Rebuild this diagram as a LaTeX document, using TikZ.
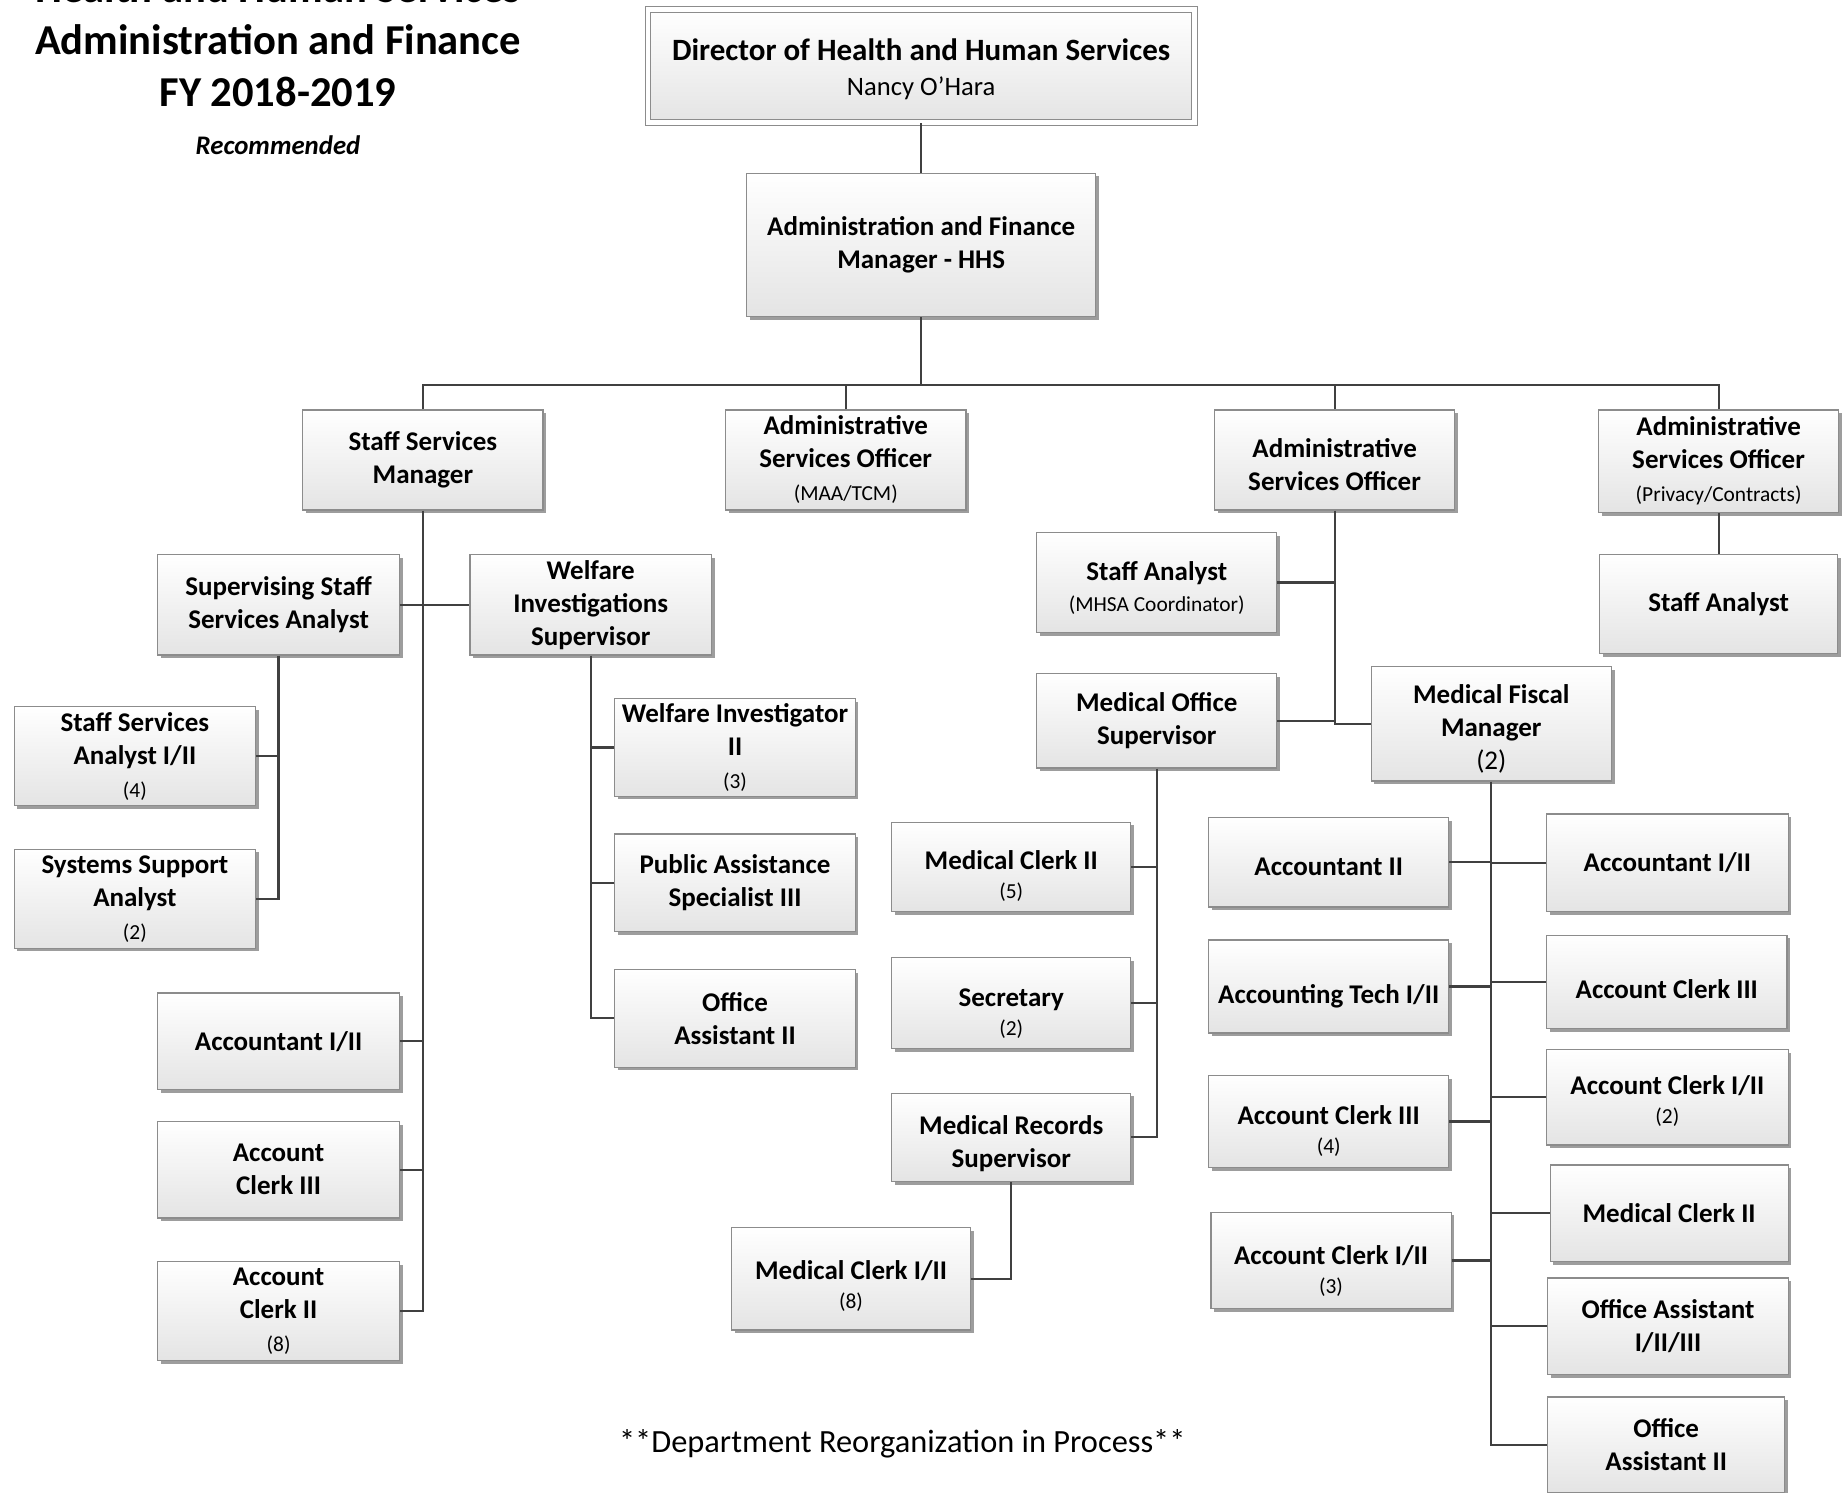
\documentclass[tikz,border=0pt]{standalone}
\usepackage{fontspec}
\setmainfont{Carlito}
\usetikzlibrary{shadows}
\definecolor{boxline}{HTML}{8C8C8C}
\definecolor{boxbot}{HTML}{E4E4E4}
\definecolor{linecol}{HTML}{404040}
\tikzset{
  lift/.store in=\liftht, lift=0,
  post/.style={draw=boxline, line width=0.6pt, top color=white, bottom color=boxbot,
    inner sep=0pt, align=center, font=\bfseries\fontsize{13.5}{16.5}\selectfont,
    drop shadow={shadow xshift=1.6pt, shadow yshift=-1.6pt, opacity=0.55, fill=black!70}},
  wire/.style={draw=linecol, line width=1.1pt},
  headline/.style={anchor=base, font=\bfseries\fontsize{21.3}{26}\selectfont}
}
\newcommand{\cnt}[1]{{\normalfont\fontsize{10.7}{16.5}\selectfont #1}}
\newcommand{\post}[7][]{\node[post, minimum width={(#5-#3)*0.589pt},
  minimum height={(#6-#4)*0.589pt}, #1] (#2) at ({(#3+#5)/2},{(#4+#6)/2})
  {\rule{0pt}{\liftht pt}#7}}
\newcommand{\tie}[2]{\draw[wire] (#1) -- (#1 -| #2.south)}

\begin{document}
\begin{tikzpicture}[x=0.589pt, y=-0.589pt]
\useasboundingbox (0,0) rectangle (1568,1267);
%Title
	\node[headline] (t1) at (236,2.5) {Health and Human Services};
	\node[headline] (t2) at (236,46) {Administration and Finance};
	\node[headline] (t3) at (236,90) {FY 2018-2019};
	\node[anchor=base, font=\bfseries\itshape\fontsize{13.4}{16}\selectfont] (rec) at (236,131) {Recommended};
%Top of the chart
	\post[double=white, double distance=2.2pt, line width=0.5pt, lift=14]{dir}{550}{8}{1014}{104}{{\fontsize{15.5}{18}\selectfont Director of Health and Human Services}\\[1pt]{\normalfont\fontsize{13.3}{16}\selectfont Nancy O’Hara}};
	\post{afm}{634}{147}{930}{269}{Administration and Finance\\Manager - HHS};
	\draw[wire] (dir.south) -- (afm.north);
	\coordinate (bus) at (782,327);
	\draw[wire] (afm.south) -- (bus);
%Second level
	\post{ssm}{257}{348}{461}{433}{Staff Services\\Manager};
	\post{asoA}{616}{348}{820}{433}{Administrative\\Services Officer\\\cnt{(MAA/TCM)}};
	\post[lift=14]{asoB}{1031}{348}{1235}{433}{Administrative\\Services Officer};
	\post{asoC}{1357}{348}{1561}{435}{Administrative\\Services Officer\\\cnt{(Privacy/Contracts)}};
	\foreach \n in {ssm,asoA,asoB,asoC} \draw[wire] (\n.north) |- (bus);
%Staff Services Manager
	\post{sssa}{134}{471}{339}{556}{Supervising Staff\\Services Analyst};
	\post{wis}{399}{471}{604}{556}{Welfare\\Investigations\\Supervisor};
	\post{ssa12}{12}{600}{217}{684}{Staff Services\\Analyst I/II\\\cnt{(4)}};
	\post{sysa}{12}{721}{217}{805}{Systems Support\\Analyst\\\cnt{(2)}};
	\post{wi2}{522}{593}{726}{676}{Welfare Investigator\\II\\\cnt{(3)}};
	\post{pas3}{522}{708}{726}{791}{Public Assistance\\Specialist III};
	\post{oa2L}{522}{823}{726}{906}{Office\\Assistant II};
	\post{accL}{134}{843}{339}{925}{Accountant I/II};
	\post{ac3L}{134}{952}{339}{1034}{Account\\Clerk III};
	\post{ac2L}{134}{1071}{339}{1155}{Account\\Clerk II\\\cnt{(8)}};
	\draw[wire] (ssm.south) |- (ac2L.east);
	\tie{accL.east}{ssm};
	\tie{ac3L.east}{ssm};
	\draw[wire] (sssa.east) -- (wis.west);
	\draw[wire] (sssa.south) |- (sysa.east);
	\tie{ssa12.east}{sssa};
	\draw[wire] (wis.south) |- (oa2L.west);
	\tie{wi2.west}{wis};
	\tie{pas3.west}{wis};
%Administrative Services Officer (Privacy/Contracts)
	\post{saR}{1358}{471}{1560}{555}{Staff Analyst};
	\draw[wire] (asoC.south) -- (saR.north);
%Administrative Services Officer
	\post[lift=15]{saM}{880}{452}{1084}{537}{Staff Analyst\\[-1pt]\cnt{(MHSA Coordinator)}};
	\post{mos}{880}{572}{1084}{652}{Medical Office\\Supervisor};
	\post[lift=15]{mfm}{1164}{566}{1368}{663}{Medical Fiscal\\Manager\\{\normalfont(2)}};
	\draw[wire] (asoB.south) |- (mfm.west);
	\tie{saM.east}{asoB};
	\tie{mos.east}{asoB};
%Medical Office Supervisor
	\post[lift=19]{mc2a}{757}{698}{960}{774}{Medical Clerk II\\[-2pt]\cnt{(5)}};
	\post[lift=19]{sec}{757}{813}{960}{890}{Secretary\\[-2pt]\cnt{(2)}};
	\post[lift=16]{mrs}{757}{928}{960}{1003}{Medical Records\\Supervisor};
	\post[lift=17]{mc12}{621}{1042}{824}{1129}{Medical Clerk I/II\\[-2pt]\cnt{(8)}};
	\draw[wire] (mos.south) |- (mrs.east);
	\tie{mc2a.east}{mos};
	\tie{sec.east}{mos};
	\draw[wire] (mrs.south) |- (mc12.east);
%Medical Fiscal Manager
	\post[lift=13.5]{acc2}{1026}{694}{1230}{770}{Accountant II};
	\post[lift=19]{at12}{1026}{798}{1230}{877}{Accounting Tech I/II};
	\post[lift=19]{ac3m}{1026}{913}{1230}{991}{Account Clerk III\\[-2pt]\cnt{(4)}};
	\post[lift=20]{ac12m}{1028}{1029}{1232}{1111}{Account Clerk I/II\\[-2pt]\cnt{(3)}};
	\post{acc12R}{1313}{691}{1518}{774}{Accountant I/II};
	\post[lift=17]{ac3R}{1313}{794}{1517}{873}{Account Clerk III};
	\post[lift=13.5]{ac12R}{1313}{891}{1518}{972}{Account Clerk I/II\\[-2pt]\cnt{(2)}};
	\post{mc2R}{1316}{989}{1518}{1071}{Medical Clerk II};
	\post{oa123}{1314}{1085}{1518}{1167}{Office Assistant\\I/II/III};
	\post{oa2R}{1314}{1186}{1515}{1267}{Office\\Assistant II};
	\draw[wire] (mfm.south) |- (oa2R.west);
	\foreach \n in {acc2,at12,ac3m,ac12m} \tie{\n.east}{mfm};
	\foreach \n in {acc12R,ac3R,ac12R,mc2R,oa123} \tie{\n.west}{mfm};
%Note
	\node[font=\fontsize{16.2}{19}\selectfont] (note) at (766,1226) {**Department Reorganization in Process**};
\end{tikzpicture}
\end{document}
